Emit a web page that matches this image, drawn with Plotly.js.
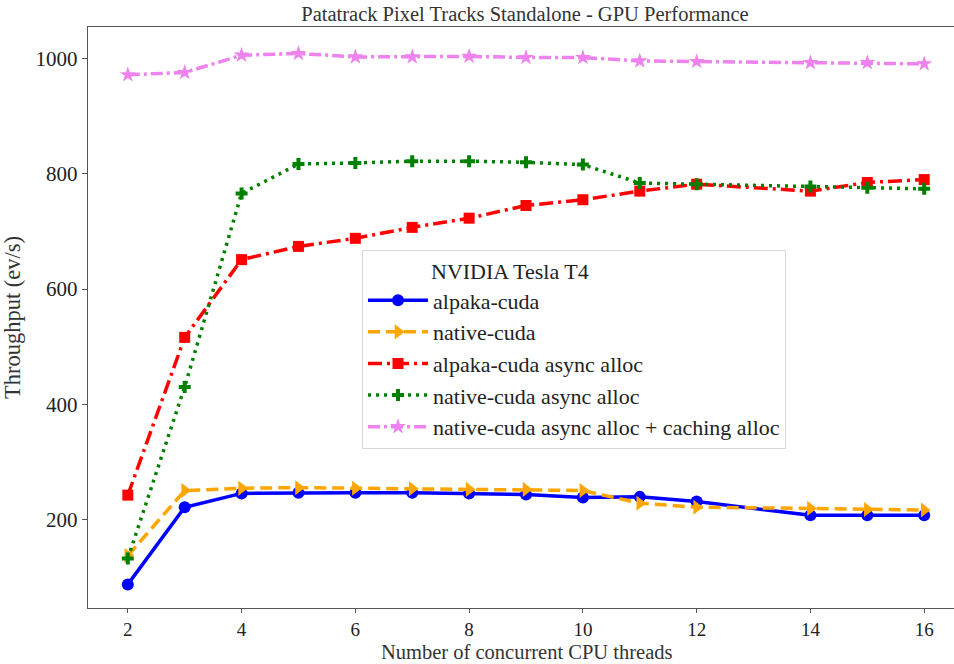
<!DOCTYPE html>
<html>
<head>
<meta charset="utf-8">
<script src="https://cdn.plot.ly/plotly-3.0.1.min.js"></script>
<style>
html,body{margin:0;padding:0;overflow:hidden;background:#fff;width:954px;height:664px;}
#chart{width:964px;height:664px;}
</style>
</head>
<body>
<div id="chart"></div>
<script>
const threads = [2, 3, 4, 5, 6, 7, 8, 9, 10, 11, 12, 14, 15, 16];
const alpakaCuda = [87, 221, 245, 246, 246, 246, 245, 243, 238, 239, 231, 207, 207, 207];
const nativeCuda = [137, 250, 254, 255, 254, 253, 252, 252, 250, 228, 221, 219, 217, 216];
const alpakaCudaAsync = [242, 516, 651, 674, 688, 707, 723, 745, 755, 770, 782, 770, 785, 790];
const nativeCudaAsync = [132, 430, 766, 817, 819, 822, 822, 820, 816, 784, 782, 778, 776, 774];
const nativeCudaAsyncCaching = [972, 976, 1006, 1009, 1003, 1003, 1004, 1002, 1002, 996, 995, 993, 993, 991];
const seriesNames = ["alpaka-cuda", "native-cuda", "alpaka-cuda async alloc", "native-cuda async alloc", "native-cuda async alloc + caching alloc"];
const yTicks = [200, 400, 600, 800, 1000];
const xTicks = [2, 4, 6, 8, 10, 12, 14, 16];
const xTitle = 'Number of concurrent CPU threads';

const FONT = "'Liberation Serif', 'DejaVu Serif', serif";

function tr(y, name, color, dash, symbol, msize) {
  return {
    x: threads, y: y, name: name, type: 'scatter', mode: 'lines+markers',
    line: {color: color, width: 3.5, dash: dash},
    marker: {color: color, symbol: symbol, size: msize, line: {width: 0}}
  };
}

const data = [
  tr(alpakaCuda, seriesNames[0], '#0000ff', 'solid', 'circle', 12),
  tr(nativeCuda, seriesNames[1], '#ffa500', '12px,6px', 'triangle-right', 13),
  tr(alpakaCudaAsync, seriesNames[2], '#ff0000', '14px,5px,3px,5px', 'square', 11),
  tr(nativeCudaAsync, seriesNames[3], '#008000', '3px,5px', 'cross', 10),
  tr(nativeCudaAsyncCaching, seriesNames[4], '#ee82ee', '12px,4px,3px,4px', 'star', 12)
];

const layout = {
  width: 964, height: 664,
  margin: {l: 88, r: 0, t: 27, b: 56},
  paper_bgcolor: '#fff', plot_bgcolor: '#fff',
  font: {family: FONT, color: '#222', size: 18},
  title: {text: 'Patatrack Pixel Tracks Standalone - GPU Performance', x: 0.5446, xanchor: 'center', y: 0.979, yanchor: 'middle', font: {size: 20.5, family: FONT, color: '#333'}},
  xaxis: {
    range: [1.3, 16.7], tickvals: xTicks, ticktext: xTicks.map(String),
    showgrid: false, zeroline: false, showline: true, linecolor: '#555', linewidth: 1.2, mirror: true,
    ticks: 'outside', ticklen: 4, tickcolor: '#555', tickwidth: 1,
    tickfont: {size: 19, family: FONT, color: '#222'}
  },
  yaxis: {
    range: [46, 1055], tickvals: yTicks, ticktext: yTicks.map(String),
    showgrid: false, zeroline: false, showline: true, linecolor: '#555', linewidth: 1.2, mirror: true,
    ticks: 'outside', ticklen: 5, tickcolor: '#555', tickwidth: 1,
    tickfont: {size: 21, family: FONT, color: '#222'},
    title: {text: 'Throughput (ev/s)', font: {size: 22.5, family: FONT, color: '#333'}, standoff: 8}
  },
  annotations: [{
    text: xTitle, xref: 'paper', yref: 'paper', x: 0.5, y: 0, xanchor: 'center', yanchor: 'bottom',
    yshift: -56, borderpad: 0, showarrow: false, font: {size: 20.5, family: FONT, color: '#333'}
  }],
  showlegend: true,
  legend: {
    x: 0.3128, y: 0.6164, xanchor: 'left', yanchor: 'top',
    bgcolor: 'rgba(255,255,255,0.85)', bordercolor: '#d8d8d8', borderwidth: 1,
    font: {size: 22, family: FONT, color: '#222'},
    title: {text: '            NVIDIA Tesla T4', font: {size: 22, family: FONT, color: '#222'}, side: 'top'},
    itemwidth: 60, tracegroupgap: 0
  }
};

Plotly.newPlot('chart', data, layout, {displayModeBar: false, staticPlot: true});
</script>
</body>
</html>
